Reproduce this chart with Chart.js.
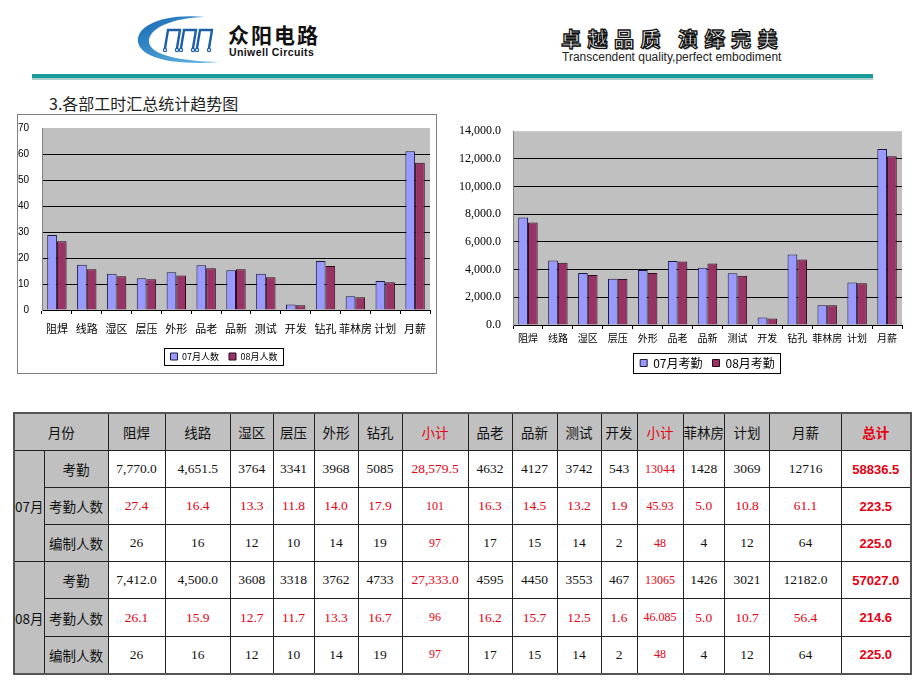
<!DOCTYPE html>
<html>
<head>
<meta charset="utf-8">
<script src="https://cdn.jsdelivr.net/npm/chart.js@4.4.0/dist/chart.umd.min.js"></script>
<style>
body { margin: 0; width: 920px; height: 690px; position: relative; overflow: hidden; background: #fff; font-family: "Noto Sans CJK SC", sans-serif; }
.abs { position: absolute; }
#cnName { left: 228px; top: 24px; font: bold 21px/1 "Noto Sans CJK SC"; letter-spacing: 2px; color: #111; }
#enName { left: 229px; top: 47px; font: bold 10.5px/1 "Liberation Sans", Arial; letter-spacing: 0.4px; color: #111; }
#slogan { left: 561px; top: 29px; font: bold 20px/1 "Noto Sans CJK SC"; letter-spacing: 6.5px; color: #fff; -webkit-text-stroke: 1.3px #111; text-shadow: 1px 1px 0 #999; white-space: nowrap; }
#sloganEn { left: 562px; top: 51px; font: 12px/1 "Liberation Sans", Arial; color: #222; white-space: nowrap; }
#line1 { left: 32px; top: 74px; width: 841px; height: 4px; background: #1a9b9b; }
#line2 { left: 32px; top: 78px; width: 841px; height: 2px; background: #a9cfcf; }
#title { left: 49px; top: 95px; font: 16px/1.1 "Noto Sans CJK SC"; color: #222; white-space: nowrap; }
#box1 { left: 17px; top: 114px; width: 418px; height: 258px; border: 1px solid #808080; }
#c1 { left: 0; top: -6px; }
#c2 { left: 445px; top: 112px; }
#tbl { left: 13px; top: 412px; border-collapse: collapse; table-layout: fixed; border: 2px solid #555; }
#tbl td { border: 1px solid #222; text-align: center; vertical-align: middle; padding: 0; height: 36.1px; font: 13.5px "Liberation Serif", serif; color: #111; white-space: nowrap; overflow: hidden; }
#tbl td.g { background: #c0c0c0; font: 13.5px "Noto Sans CJK SC"; }
#tbl td.red { color: #e60012; }
#tbl td.sm { font-size: 12px; }
#tbl td.tot { font: bold 13px "Liberation Sans", Arial; color: #e60012; }
</style>
</head>
<body>
<svg class="abs" style="left:132px;top:12px" width="95" height="58" viewBox="132 12 95 58">
  <defs>
    <linearGradient id="arc" x1="0" y1="0" x2="1" y2="1">
      <stop offset="0" stop-color="#1467b3"/>
      <stop offset="1" stop-color="#69bde6"/>
    </linearGradient>
  </defs>
  <path d="M 205 17 C 160 13, 136 27, 138 42 C 140 57, 172 66, 219 62 C 180 61, 150 55, 149 42 C 148 29, 170 18, 205 17 Z" fill="url(#arc)"/>
  <g stroke="#1c5fa6" stroke-width="2.4" fill="none" stroke-linecap="round">
    <path d="M 165 48 L 168 30 L 180 30 L 177 48"/>
    <path d="M 181 48 L 184 30 L 196 30 L 193 48"/>
    <path d="M 197 48 L 200 30 L 212 30 L 209 48"/>
  </g>
  <g fill="#fff" stroke="#1c5fa6" stroke-width="1.2">
    <circle cx="165" cy="50" r="1.6"/><circle cx="177" cy="50" r="1.6"/>
    <circle cx="181" cy="50" r="1.6"/><circle cx="193" cy="50" r="1.6"/>
    <circle cx="197" cy="50" r="1.6"/><circle cx="209" cy="50" r="1.6"/>
  </g>
</svg>
<div id="cnName" class="abs">众阳电路</div>
<div id="enName" class="abs">Uniwell Circuits</div>
<div id="slogan" class="abs">卓越品质 演绎完美</div>
<div id="sloganEn" class="abs">Transcendent quality,perfect embodiment</div>
<div id="line1" class="abs"></div>
<div id="line2" class="abs"></div>
<div id="title" class="abs">3.各部工时汇总统计趋势图</div>
<div id="box1" class="abs"><canvas id="c1" class="abs" width="418" height="264"></canvas></div>
<canvas id="c2" class="abs" width="465" height="268"></canvas>
<table id="tbl" class="abs"></table>

<script>
// chart categories (both charts use the same order)
const depts = ['阻焊', '线路', '湿区', '层压', '外形', '品老', '品新', '测试', '开发', '钻孔', '菲林房', '计划', '月薪'];

// left chart: people per department
const julPeople = [28.8, 17.4, 13.9, 12.2, 14.5, 17.2, 15.3, 13.9, 2.1, 18.8, 5.3, 11.2, 61.1];
const augPeople = [26.4, 15.7, 13.0, 11.8, 13.3, 16.1, 15.7, 12.6, 1.8, 16.9, 4.9, 10.7, 56.6];

// right chart: attendance hours
const julHours = [7770, 4651.5, 3764, 3341, 3968, 4632, 4127, 3742, 543, 5085, 1428, 3069, 12716];
const augHours = [7412, 4500, 3608, 3318, 3762, 4595, 4450, 3553, 467, 4733, 1426, 3021, 12182];

// table
const tblHead = ['阻焊', '线路', '湿区', '层压', '外形', '钻孔', '小计', '品老', '品新', '测试', '开发', '小计', '菲林房', '计划', '月薪', '总计'];
const julKaoqin = ['7,770.0', '4,651.5', '3764', '3341', '3968', '5085', '28,579.5', '4632', '4127', '3742', '543', '13044', '1428', '3069', '12716', '58836.5'];
const julRenshu = ['27.4', '16.4', '13.3', '11.8', '14.0', '17.9', '101', '16.3', '14.5', '13.2', '1.9', '45.93', '5.0', '10.8', '61.1', '223.5'];
const julBianzhi = ['26', '16', '12', '10', '14', '19', '97', '17', '15', '14', '2', '48', '4', '12', '64', '225.0'];
const augKaoqin = ['7,412.0', '4,500.0', '3608', '3318', '3762', '4733', '27,333.0', '4595', '4450', '3553', '467', '13065', '1426', '3021', '12182.0', '57027.0'];
const augRenshu = ['26.1', '15.9', '12.7', '11.7', '13.3', '16.7', '96', '16.2', '15.7', '12.5', '1.6', '46.085', '5.0', '10.7', '56.4', '214.6'];
const augBianzhi = ['26', '16', '12', '10', '14', '19', '97', '17', '15', '14', '2', '48', '4', '12', '64', '225.0'];

const colW = [29, 64, 57, 65.5, 42.5, 41, 44, 44, 66, 44, 45, 44, 36, 46, 41, 45, 72, 69];

const plotBg = {
    id: 'plotBg',
    beforeDraw(chart) {
        const a = chart.chartArea;
        chart.ctx.save();
        chart.ctx.fillStyle = '#c0c0c0';
        chart.ctx.fillRect(a.left, a.top, a.right - a.left, a.bottom - a.top);
        chart.ctx.restore();
    }
};

const legendFrame = {
    id: 'legendFrame',
    afterDraw(chart) {
        const boxes = chart.legend.legendHitBoxes;
        if (!boxes || !boxes.length) return;
        let l = Math.min(...boxes.map(b => b.left));
        let r = Math.max(...boxes.map(b => b.left + b.width));
        let t = Math.min(...boxes.map(b => b.top));
        let b2 = Math.max(...boxes.map(b => b.top + b.height));
        const ctx = chart.ctx;
        ctx.save();
        ctx.strokeStyle = '#000';
        ctx.lineWidth = 1;
        ctx.strokeRect(Math.round(l - 7) + 0.5, Math.round(t - 4) + 0.5, Math.round(r - l + 12), Math.round(b2 - t + 8));
        ctx.restore();
    }
};

function barChart(canvas, values1, values2, names, opts) {
    return new Chart(canvas, {
        type: 'bar',
        data: {
            labels: depts,
            datasets: [{
                label: names[0],
                data: values1,
                backgroundColor: '#9999ff',
                borderColor: '#1a1a40',
                borderWidth: 1
            }, {
                label: names[1],
                data: values2,
                backgroundColor: '#993366',
                borderColor: '#2a0a1a',
                borderWidth: 1
            }]
        },
        options: {
            responsive: false,
            animation: false,
            layout: { padding: opts.padding },
            datasets: { bar: { categoryPercentage: 0.65, barPercentage: 1.0 } },
            plugins: {
                tooltip: { enabled: false },
                legend: {
                    position: 'bottom',
                    fullSize: opts.legendFull,
                    labels: {
                        color: '#000',
                        font: { family: opts.legendFont, size: opts.legendSize },
                        boxWidth: 7,
                        boxHeight: 7,
                        padding: opts.legendPad
                    }
                }
            },
            scales: {
                x: {
                    grid: { drawOnChartArea: false, drawTicks: true, tickLength: 4, color: '#000' },
                    border: { color: '#000' },
                    ticks: {
                        color: '#000',
                        font: { family: 'Noto Sans CJK SC', size: opts.xSize },
                        maxRotation: 0,
                        autoSkip: false,
                        padding: opts.xPad
                    },
                    afterFit: s => { s.height = opts.xHeight; }
                },
                y: {
                    min: 0,
                    max: opts.max,
                    grid: {
                        drawTicks: false,
                        color: c => c.tick.value === opts.max ? 'rgba(0,0,0,0)' : '#000'
                    },
                    border: { color: '#808080' },
                    ticks: {
                        stepSize: opts.step,
                        color: '#000',
                        font: { family: opts.yFont, size: opts.ySize },
                        padding: opts.yPad,
                        callback: opts.yFormat
                    },
                    afterFit: s => { s.width = opts.yWidth; }
                }
            }
        },
        plugins: [plotBg, legendFrame]
    });
}

barChart(document.getElementById('c1'), julPeople, augPeople, ['07月人数', '08月人数'], {
    padding: { left: 0, right: 6, top: 6, bottom: 2 },
    legendFull: true,
    legendFont: 'Liberation Sans Narrow, Noto Sans CJK SC',
    legendSize: 9,
    legendPad: 10,
    xSize: 11,
    xPad: 8,
    xHeight: 32,
    max: 70,
    step: 10,
    yFont: 'Liberation Sans Narrow, Liberation Sans',
    ySize: 10,
    yPad: 13,
    yWidth: 24,
    yFormat: v => v
});

barChart(document.getElementById('c2'), julHours, augHours, ['07月考勤', '08月考勤'], {
    padding: { left: 0, right: 8, top: 3, bottom: 1 },
    legendFull: false,
    legendFont: 'Noto Sans CJK SC',
    legendSize: 12,
    legendPad: 10,
    xSize: 10,
    xPad: 3,
    xHeight: 22,
    max: 14000,
    step: 2000,
    yFont: 'Liberation Serif',
    ySize: 12,
    yPad: 12,
    yWidth: 68,
    yFormat: v => v.toLocaleString('en-US', { minimumFractionDigits: 1, maximumFractionDigits: 1 })
});

// table
let tbl = document.getElementById('tbl');
let html = '<colgroup>' + colW.map(w => '<col style="width:' + w + 'px">').join('') + '</colgroup>';
html += '<tr><td class="g" colspan="2">月份</td>';
tblHead.forEach((h, i) => {
    let cls = 'g';
    let style = '';
    if (h === '小计') cls += ' red';
    if (h === '总计') style = ' style="color:#e60012;font-weight:bold"';
    html += '<td class="' + cls + '"' + style + '>' + h + '</td>';
});
html += '</tr>';

function addRow(month, label, vals, redRow) {
    let s = '<tr>';
    if (month) s += '<td class="g" rowspan="3">' + month + '</td>';
    s += '<td class="g">' + label + '</td>';
    vals.forEach((v, i) => {
        let cls = [];
        if (i === 15) {
            cls.push('tot');
        } else {
            if (redRow || i === 6 || i === 11) cls.push('red');
            if ((i === 6 && label !== '考勤') || i === 11) cls.push('sm');
        }
        s += '<td class="' + cls.join(' ') + '">' + v + '</td>';
    });
    return s + '</tr>';
}

html += addRow('07月', '考勤', julKaoqin, false);
html += addRow('', '考勤人数', julRenshu, true);
html += addRow('', '编制人数', julBianzhi, false);
html += addRow('08月', '考勤', augKaoqin, false);
html += addRow('', '考勤人数', augRenshu, true);
html += addRow('', '编制人数', augBianzhi, false);
tbl.innerHTML = html;
</script>
</body>
</html>
